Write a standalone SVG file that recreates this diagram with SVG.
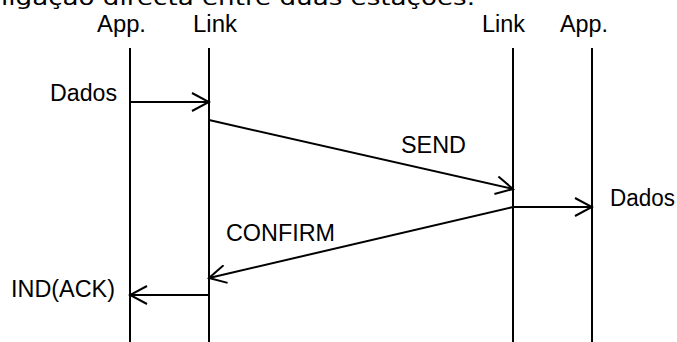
<svg xmlns="http://www.w3.org/2000/svg" width="677" height="342" viewBox="0 0 677 342">
  <style>
    .lbl { font-family: "Liberation Sans", Arial, sans-serif; font-size: 23px; fill: #000; }
    .title { font-family: "DejaVu Sans", "Noto Sans", sans-serif; font-size: 22px; fill: #000; }
    .life { stroke: #000; stroke-width: 2; fill: none; }
    .msg { stroke: #000; stroke-width: 2; fill: none; marker-end: url(#open); }
  </style>
  <defs>
    <marker id="open" viewBox="0 0 20 20" refX="18" refY="10" markerWidth="20" markerHeight="20" markerUnits="userSpaceOnUse" orient="auto">
      <path d="M1,1 L18,10 L1,19" fill="none" stroke="#000" stroke-width="2"/>
    </marker>
  </defs>
  <rect width="677" height="342" fill="#fff"/>

  <!-- caption line, partly above the top edge -->
  <text class="title" x="1" y="5" textLength="474" lengthAdjust="spacingAndGlyphs">ligação directa entre duas estações.</text>

  <!-- lifelines -->
  <g id="app-left">
    <text class="lbl" x="97" y="32" textLength="49" lengthAdjust="spacingAndGlyphs">App.</text>
    <line class="life" x1="130" y1="48" x2="130" y2="342"/>
  </g>
  <g id="link-left">
    <text class="lbl" x="193" y="32" textLength="44" lengthAdjust="spacingAndGlyphs">Link</text>
    <line class="life" x1="209" y1="48" x2="209" y2="342"/>
  </g>
  <g id="link-right">
    <text class="lbl" x="482" y="32" textLength="43" lengthAdjust="spacingAndGlyphs">Link</text>
    <line class="life" x1="513" y1="48" x2="513" y2="342"/>
  </g>
  <g id="app-right">
    <text class="lbl" x="560" y="32" textLength="48" lengthAdjust="spacingAndGlyphs">App.</text>
    <line class="life" x1="592" y1="48" x2="592" y2="342"/>
  </g>

  <!-- messages -->
  <g id="connectors">
    <line class="msg" x1="130" y1="102" x2="209" y2="102"/>
    <line class="msg" x1="209" y1="120" x2="513" y2="189"/>
    <line class="msg" x1="513" y1="207" x2="592" y2="207"/>
    <line class="msg" x1="513" y1="207" x2="209" y2="278"/>
    <line class="msg" x1="209" y1="295" x2="130" y2="295"/>
  </g>

  <g id="labels">
    <text class="lbl" x="50" y="101" textLength="67" lengthAdjust="spacingAndGlyphs">Dados</text>
    <text class="lbl" x="401" y="153" textLength="65" lengthAdjust="spacingAndGlyphs">SEND</text>
    <text class="lbl" x="610" y="206" textLength="65" lengthAdjust="spacingAndGlyphs">Dados</text>
    <text class="lbl" x="226" y="241" textLength="109" lengthAdjust="spacingAndGlyphs">CONFIRM</text>
    <text class="lbl" x="11" y="297" textLength="104" lengthAdjust="spacingAndGlyphs">IND(ACK)</text>
  </g>
</svg>
